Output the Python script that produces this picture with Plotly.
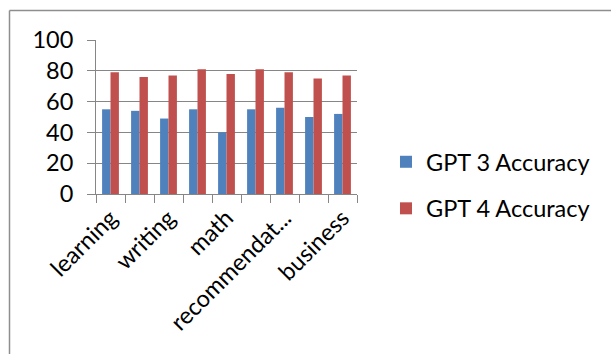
import plotly.graph_objects as go

categories = ["learning", "coding", "writing", "reasoning", "math",
              "science", "recommendation", "history", "business"]
tick_labels = ["learning", "", "writing", "", "math", "", "recommendat...", "", "business"]
gpt3_accuracy = [55, 54, 49, 55, 40, 55, 56, 50, 52]
gpt4_accuracy = [79, 76, 77, 81, 78, 81, 79, 75, 77]
series_names = ["GPT 3 Accuracy", "GPT 4 Accuracy"]
y_ticks = [0, 20, 40, 60, 80, 100]

FONT = "Lato"
W, H = 611, 354
L, R, T, B = 96, 357, 40, 194  # plot area pixel box

fig = go.Figure()
fig.add_trace(go.Bar(x=categories, y=gpt3_accuracy, name=series_names[0],
                     marker=dict(color="#4F81BD", line=dict(width=0)), legendgroup="a"))
fig.add_trace(go.Bar(x=categories, y=gpt4_accuracy, name=series_names[1],
                     marker=dict(color="#C0504D", line=dict(width=0)), legendgroup="b"))

pw = R - L
ph = B - T
def px(x):
    return (x - L) / pw
def py(y):
    return (B - y) / ph

grid = "#868686"
fig.update_layout(
    width=W, height=H,
    margin=dict(l=L, r=W - R, t=T, b=H - B, autoexpand=False),
    paper_bgcolor="white", plot_bgcolor="white",
    barmode="group", bargap=0.42, bargroupgap=0,
    font=dict(family=FONT, size=23, color="black"),
    showlegend=True,
    legend=dict(x=px(386), y=py(140), xanchor="left", yanchor="top",
                font=dict(family=FONT, size=23.5, color="black"),
                traceorder="grouped", tracegroupgap=13, bgcolor="rgba(0,0,0,0)"),
    xaxis=dict(type="category", categoryorder="array", categoryarray=categories,
               range=[-0.5, len(categories) - 0.5],
               tickson="boundaries", ticks="outside", ticklen=8, tickcolor=grid, tickwidth=1,
               tickvals=categories, ticktext=tick_labels, tickangle=-45,
               tickfont=dict(family=FONT, size=23.5, color="black"),
               showline=True, linecolor=grid, linewidth=1, showgrid=False, zeroline=False),
    yaxis=dict(range=[0, 100], tickvals=y_ticks, ticks="outside", ticklen=8,
               tickcolor=grid, tickwidth=1, ticklabelstandoff=9,
               tickfont=dict(family=FONT, size=23.5, color="black"),
               showline=True, linecolor=grid, linewidth=1,
               showgrid=True, gridcolor=grid, gridwidth=1, zeroline=False),
    shapes=[
        dict(type="line", xref="paper", yref="paper", x0=px(9.5), x1=px(9.5),
             y0=py(H + 5), y1=py(10.5), line=dict(color="#8e8e8e", width=1.5)),
        dict(type="line", xref="paper", yref="paper", x0=px(9.5), x1=px(W + 5),
             y0=py(10.5), y1=py(10.5), line=dict(color="#8e8e8e", width=1.5)),
    ],
)

fig.write_html("out.html")
